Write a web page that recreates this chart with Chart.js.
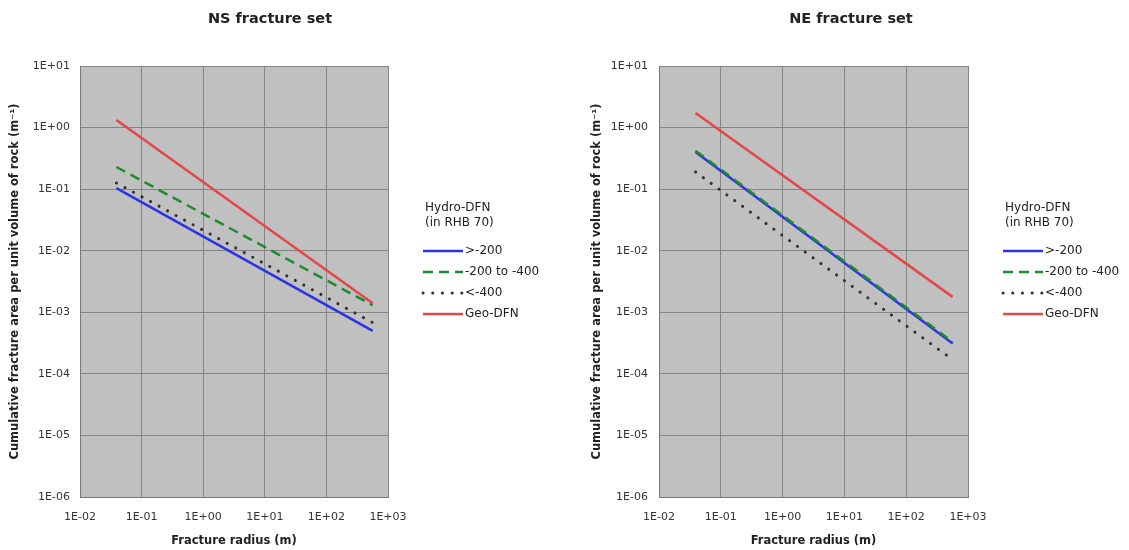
<!DOCTYPE html>
<html>
<head>
<meta charset="utf-8">
<title>Cumulative fracture area – NS and NE fracture sets</title>
<script src="https://cdn.jsdelivr.net/npm/chart.js@4.4.1/dist/chart.umd.min.js"></script>
<style>
  html, body { margin: 0; padding: 0; background: #ffffff; width: 1129px; height: 550px; overflow: hidden; }
  .panel { position: absolute; top: 0; height: 550px; }
  #nsPanel { left: 0; width: 540px; }
  #nePanel { left: 573px; width: 556px; }
</style>
</head>
<body>
<div class="panel" id="nsPanel"><canvas id="nsChart"></canvas></div>
<div class="panel" id="nePanel"><canvas id="neChart"></canvas></div>
<script>
// Fracture radius range (m): smallest and largest radius of each power-law line
const radius = [0.039, 564];

// Axis ticks
const xTickValues = [0.01, 0.1, 1, 10, 100, 1000];
const xTickLabels = ['1E-02', '1E-01', '1E+00', '1E+01', '1E+02', '1E+03'];
const yTickValues = [1e-6, 1e-5, 1e-4, 1e-3, 1e-2, 1e-1, 1, 10];
const yTickLabels = ['1E-06', '1E-05', '1E-04', '1E-03', '1E-02', '1E-01', '1E+00', '1E+01'];

// Legend
const legendHeading = ['Hydro-DFN', '(in RHB 70)'];
const seriesLabels = ['>-200', '-200 to -400', '<-400', 'Geo-DFN'];

// NS fracture set, cumulative area per unit volume (1/m) at each end of the radius range
const nsAbove200 = [0.104, 5.0e-4];
const ns200to400 = [0.229, 1.3e-3];
const nsBelow400 = [0.126, 6.8e-4];
const nsGeoDFN = [1.33, 1.4e-3];

// NE fracture set
const neAbove200 = [0.40, 3.1e-4];
const ne200to400 = [0.42, 3.3e-4];
const neBelow400 = [0.19, 1.7e-4];
const neGeoDFN = [1.73, 1.78e-3];

const FONT = 'DejaVu Sans';
const TEXT = '#222222';
const GRID = '#858585';

const seriesStyles = [
  { borderColor: '#2b33e4', borderWidth: 2.5, borderDash: [], order: 1 },
  { borderColor: '#1f8a2f', borderWidth: 2.5, borderDash: [10, 6], order: 0 },
  { borderColor: '#303030', borderWidth: 3, borderDash: [0.1, 9.6], borderCapStyle: 'round', order: 2 },
  { borderColor: '#e2474a', borderWidth: 2.5, borderDash: [], order: 3 }
];

function toPoints(values) {
  return radius.map((r, i) => ({ x: r, y: values[i] }));
}

function buildDatasets(seriesList) {
  return seriesList.map((values, i) => Object.assign({
    label: seriesLabels[i],
    data: toPoints(values),
    pointRadius: 0,
    pointHoverRadius: 0,
    tension: 0,
    fill: false
  }, seriesStyles[i]));
}

// Grey plot area behind the grid
const plotBackground = {
  id: 'plotBackground',
  beforeDraw(chart) {
    const { ctx, chartArea: { left, top, width, height } } = chart;
    ctx.save();
    ctx.fillStyle = '#c0c0c0';
    ctx.fillRect(left, top, width, height);
    ctx.restore();
  }
};

// Legend placed in its own layout box to the right of the plot
function sideLegend(cfg) {
  return {
    id: 'sideLegend',
    beforeInit(chart) {
      const box = {
        position: 'right',
        weight: 1000,
        fullSize: false,
        options: {},
        width: cfg.width,
        height: 0,
        isHorizontal() { return false; },
        update(maxWidth, maxHeight) {
          this.width = cfg.width;
          this.height = maxHeight;
        },
        draw() {
          const ctx = chart.ctx;
          const x0 = this.left + cfg.offsetX;
          ctx.save();
          ctx.font = `12px "${FONT}"`;
          ctx.fillStyle = TEXT;
          ctx.textAlign = 'left';
          ctx.textBaseline = 'middle';
          legendHeading.forEach((line, i) => {
            ctx.fillText(line, x0 + 2, cfg.headingY + i * 15);
          });
          chart.data.datasets.forEach((ds, i) => {
            const y = cfg.itemY + i * cfg.itemGap;
            ctx.save();
            ctx.strokeStyle = ds.borderColor;
            ctx.lineWidth = ds.borderWidth;
            ctx.lineCap = ds.borderCapStyle || 'butt';
            ctx.setLineDash(ds.borderDash || []);
            ctx.beginPath();
            ctx.moveTo(x0, y);
            ctx.lineTo(x0 + 40, y);
            ctx.stroke();
            ctx.restore();
            ctx.fillText(ds.label, x0 + 42, y);
          });
          ctx.restore();
        }
      };
      Chart.layouts.addBox(chart, box);
    }
  };
}

function makeChart(canvasId, title, seriesList, layout) {
  const tickFont = { family: FONT, size: 11 };
  const titleFont = { family: FONT, size: 11.5, weight: 'bold' };
  return new Chart(document.getElementById(canvasId), {
    type: 'line',
    data: { datasets: buildDatasets(seriesList) },
    options: {
      responsive: true,
      maintainAspectRatio: false,
      animation: false,
      events: [],
      layout: { padding: 0 },
      plugins: {
        legend: { display: false },
        tooltip: { enabled: false },
        title: {
          display: true,
          text: title,
          color: TEXT,
          font: { family: FONT, size: 14.5, weight: 'bold' },
          padding: { top: 11, bottom: 37.6 }
        }
      },
      scales: {
        x: {
          type: 'logarithmic',
          min: 0.01,
          max: 1000,
          afterBuildTicks(scale) { scale.ticks = xTickValues.map(v => ({ value: v })); },
          afterFit(scale) { scale.height = 53; },
          ticks: {
            callback: (v, i) => xTickLabels[i],
            font: tickFont,
            color: '#333333',
            padding: 14,
            maxRotation: 0,
            autoSkip: false
          },
          grid: { color: GRID, lineWidth: 1, drawTicks: false },
          border: { color: '#777777', width: 1 },
          title: {
            display: true,
            text: 'Fracture radius (m)',
            color: TEXT,
            font: titleFont,
            padding: { top: 0, bottom: 2 }
          }
        },
        y: {
          type: 'logarithmic',
          min: 1e-6,
          max: 10,
          afterBuildTicks(scale) { scale.ticks = yTickValues.map(v => ({ value: v })); },
          afterFit(scale) { scale.width = layout.yWidth; },
          ticks: {
            callback: (v, i) => yTickLabels[i],
            font: tickFont,
            color: '#333333',
            padding: layout.yTickPad,
            autoSkip: false
          },
          grid: { color: GRID, lineWidth: 1, drawTicks: false },
          border: { color: '#777777', width: 1 },
          title: {
            display: true,
            text: 'Cumulative fracture area per unit volume of rock (m⁻¹)',
            color: TEXT,
            font: titleFont,
            padding: { top: layout.yTitlePad, bottom: 0 }
          }
        }
      }
    },
    plugins: [plotBackground, sideLegend(layout.legend)]
  });
}

makeChart('nsChart', 'NS fracture set', [nsAbove200, ns200to400, nsBelow400, nsGeoDFN], {
  yWidth: 80, yTickPad: 10, yTitlePad: 8,
  legend: { width: 152, offsetX: 35, headingY: 208, itemY: 251, itemGap: 21 }
});

makeChart('neChart', 'NE fracture set', [neAbove200, ne200to400, neBelow400, neGeoDFN], {
  yWidth: 86, yTickPad: 11, yTitlePad: 17,
  legend: { width: 161, offsetX: 35, headingY: 208, itemY: 251, itemGap: 21 }
});
</script>
</body>
</html>
